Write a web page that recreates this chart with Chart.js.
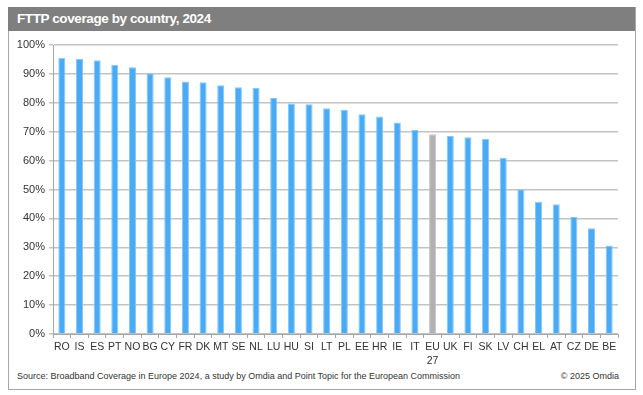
<!DOCTYPE html>
<html>
<head>
<meta charset="utf-8">
<script src="https://cdn.jsdelivr.net/npm/chart.js@4"></script>
<style>
  body { margin: 0; background: #fff; font-family: "Liberation Sans", Arial, sans-serif; }
  #frame { position: absolute; left: 8px; top: 7px; width: 626px; height: 382px; border: 1px solid #a6a6a6; border-top: none; }
  #titlebar { position: absolute; left: 8px; top: 7px; width: 627px; height: 24px; background: #7f7f7f; }
  #titlebar span { position: absolute; left: 9px; top: 4px; color: #fff; font-weight: bold; font-size: 13.5px; letter-spacing: -0.4px; }
  #wrap { position: absolute; left: 9px; top: 32px; width: 625px; height: 336px; }
  #source { position: absolute; left: 17px; top: 371px; font-size: 9px; color: #333; }
  #copy { position: absolute; right: 24px; top: 371px; font-size: 9px; color: #333; }
</style>
</head>
<body>
<div id="frame"></div>
<div id="titlebar"><span>FTTP coverage by country, 2024</span></div>
<div id="wrap"><canvas id="grafica"></canvas></div>
<div id="source">Source: Broadband Coverage in Europe 2024, a study by Omdia and Point Topic for the European Commission</div>
<div id="copy">© 2025 Omdia</div>
<script>
// Paises y cobertura FTTP (%)
const paises = ['RO', 'IS', 'ES', 'PT', 'NO', 'BG', 'CY', 'FR', 'DK', 'MT', 'SE', 'NL', 'LU', 'HU', 'SI',
  'LT', 'PL', 'EE', 'HR', 'IE', 'IT', ['EU', '27'], 'UK', 'FI', 'SK', 'LV', 'CH', 'EL', 'AT', 'CZ', 'DE', 'BE'];
const cobertura = [95.6, 95.2, 94.7, 93.2, 92.3, 90.2, 88.8, 87.4, 87.1, 86.1, 85.4, 85.1, 81.7, 79.8, 79.5,
  78.1, 77.6, 76.0, 75.3, 73.2, 70.6, 69.1, 68.5, 68.1, 67.6, 61.0, 50.1, 45.8, 44.9, 40.5, 36.6, 30.6];
const ticksY = [0, 10, 20, 30, 40, 50, 60, 70, 80, 90, 100];

const colores = paises.map(p => Array.isArray(p) ? '#b1b1b3' : '#49abf6');
const bordes = paises.map(p => Array.isArray(p) ? '#c4c4c6' : '#86c8f8');

const ctx = document.getElementById('grafica').getContext('2d');
new Chart(ctx, {
  type: 'bar',
  data: {
    labels: paises,
    datasets: [{
      data: cobertura,
      backgroundColor: colores,
      borderColor: bordes,
      borderWidth: 1,
      barPercentage: 0.4,
      categoryPercentage: 1,
    }],
  },
  options: {
    responsive: true,
    maintainAspectRatio: false,
    animation: false,
    layout: { padding: { top: 13, right: 16, bottom: 0, left: 0 } },
    plugins: { legend: { display: false }, tooltip: { enabled: false } },
    scales: {
      x: {
        grid: { drawOnChartArea: false, color: '#a6a6a6', tickLength: 4 },
        border: { color: '#a6a6a6' },
        ticks: { color: '#333', font: { family: 'Liberation Sans', size: 10.5, lineHeight: 1.35 }, maxRotation: 0, autoSkip: false, padding: 2 },
        afterFit: (s) => { s.height = 34; },
      },
      y: {
        min: 0,
        max: 100,
        afterBuildTicks: (s) => { s.ticks = ticksY.map(v => ({ value: v })); },
        grid: { color: '#c3c3c3', lineWidth: 1.5, tickLength: 4 },
        border: { color: '#a6a6a6' },
        ticks: { color: '#333', font: { family: 'Liberation Sans', size: 11 }, padding: 4, callback: (v) => v + '%' },
        afterFit: (s) => { s.width = 44; },
      },
    },
  },
});
</script>
</body>
</html>
